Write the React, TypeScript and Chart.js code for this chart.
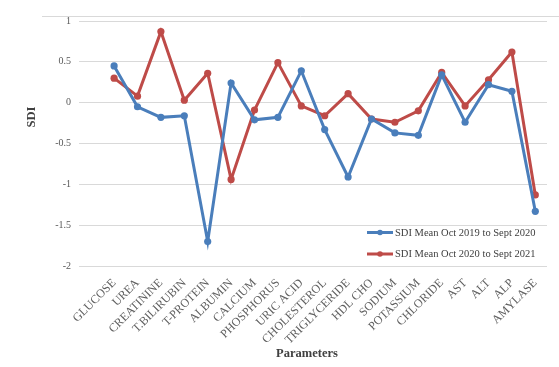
import React, { useEffect, useRef } from 'react';
import { Chart, registerables } from 'chart.js';

Chart.register(...registerables);

const categories = ['GLUCOSE', 'UREA', 'CREATININE', 'T.BILIRUBIN', 'T-PROTEIN', 'ALBUMIN', 'CALCIUM', 'PHOSPHORUS', 'URIC ACID', 'CHOLESTEROL', 'TRIGLYCERIDE', 'HDL CHO', 'SODIUM', 'POTASSIUM', 'CHLORIDE', 'AST', 'ALT', 'ALP', 'AMYLASE'];
const sdi2019to2020 = [0.45, -0.05, -0.18, -0.16, -1.70, 0.24, -0.21, -0.18, 0.39, -0.33, -0.91, -0.20, -0.37, -0.40, 0.34, -0.24, 0.22, 0.14, -1.33];
const sdi2020to2021 = [0.30, 0.08, 0.87, 0.03, 0.36, -0.94, -0.09, 0.49, -0.04, -0.16, 0.11, -0.20, -0.24, -0.10, 0.37, -0.04, 0.28, 0.62, -1.13];
const seriesNames = ['SDI Mean Oct 2019 to Sept 2020', 'SDI Mean Oct 2020 to Sept 2021'];
const yTickValues = [1, 0.5, 0, -0.5, -1, -1.5, -2];
const yTitle = 'SDI';
const xTitle = 'Parameters';

const FONT = "'Liberation Serif', 'Times New Roman', serif";
const BLUE = '#4A7EBB';
const RED = '#BE4B48';

const decorPlugin = {
  id: 'decor',
  afterDraw(chart: any) {
    const ctx = chart.ctx;
    ctx.save();
    // top frame line
    ctx.strokeStyle = '#D9D9D9';
    ctx.lineWidth = 1;
    ctx.beginPath();
    ctx.moveTo(42, 16.5);
    ctx.lineTo(chart.width, 16.5);
    ctx.stroke();

    // axis titles
    ctx.fillStyle = '#404040';
    ctx.font = `bold 12.5px ${FONT}`;
    ctx.textAlign = 'center';
    ctx.textBaseline = 'middle';
    ctx.fillText(xTitle, 307, 354);
    ctx.save();
    ctx.translate(32, 117);
    ctx.rotate(-Math.PI / 2);
    ctx.fillText(yTitle, 0, 0);
    ctx.restore();

    // legend
    const colors = [BLUE, RED];
    const rows = [232.5, 254];
    ctx.font = `10.5px ${FONT}`;
    ctx.textAlign = 'left';
    seriesNames.forEach((name, i) => {
      const y = rows[i];
      ctx.strokeStyle = colors[i];
      ctx.lineWidth = 3;
      ctx.beginPath();
      ctx.moveTo(367, y);
      ctx.lineTo(393, y);
      ctx.stroke();
      ctx.fillStyle = colors[i];
      ctx.beginPath();
      ctx.arc(380, y, 2.8, 0, Math.PI * 2);
      ctx.fill();
      ctx.fillStyle = '#404040';
      ctx.fillText(name, 395, y + 0.5);
    });
    ctx.restore();
  },
};

export default function App() {
  const ref = useRef<HTMLCanvasElement | null>(null);

  useEffect(() => {
    document.body.style.margin = '0';
    if (!ref.current) return;
    const mk = (vals: number[]) => vals.map((v, i) => ({ x: i, y: v }));
    const chart = new Chart(ref.current, {
      type: 'line',
      data: {
        datasets: [
          {
            label: seriesNames[0],
            data: mk(sdi2019to2020),
            borderColor: BLUE,
            backgroundColor: BLUE,
            pointBackgroundColor: BLUE,
            pointBorderColor: BLUE,
            borderWidth: 3,
            pointRadius: 3.6,
            pointBorderWidth: 0,
            tension: 0,
          },
          {
            label: seriesNames[1],
            data: mk(sdi2020to2021),
            borderColor: RED,
            backgroundColor: RED,
            pointBackgroundColor: RED,
            pointBorderColor: RED,
            borderWidth: 3,
            pointRadius: 3.6,
            pointBorderWidth: 0,
            tension: 0,
          },
        ],
      },
      options: {
        responsive: false,
        animation: false,
        layout: { padding: { left: 0, top: 21, right: 12, bottom: 0 } },
        plugins: { legend: { display: false }, tooltip: { enabled: false } },
        scales: {
          x: {
            type: 'linear',
            min: -1.5,
            max: 18.5,
            afterBuildTicks: (scale: any) => {
              scale.ticks = categories.map((_, i) => ({ value: i }));
            },
            afterFit: (scale: any) => {
              scale.height = 101;
              scale.paddingLeft = 0;
              scale.paddingRight = 0;
            },
            grid: { display: false, drawTicks: false },
            border: { display: false },
            ticks: {
              autoSkip: false,
              minRotation: 45,
              maxRotation: 45,
              padding: 10,
              color: '#5F5F5F',
              font: { family: FONT, size: 12 },
              callback: (v: any) => categories[v as number] ?? '',
            },
          },
          y: {
            min: -2,
            max: 1,
            afterBuildTicks: (scale: any) => {
              scale.ticks = yTickValues.map((v) => ({ value: v }));
            },
            afterFit: (scale: any) => {
              scale.width = 79;
            },
            grid: { color: '#D9D9D9', lineWidth: 1, drawTicks: false },
            border: { display: false },
            ticks: {
              padding: 8,
              color: '#595959',
              font: { family: FONT, size: 10 },
              callback: (v: any) => String(v),
            },
          },
        },
      },
      plugins: [decorPlugin],
    } as any);
    return () => chart.destroy();
  }, []);

  return <canvas ref={ref} width={559} height={367} style={{ display: 'block' }} />;
}
